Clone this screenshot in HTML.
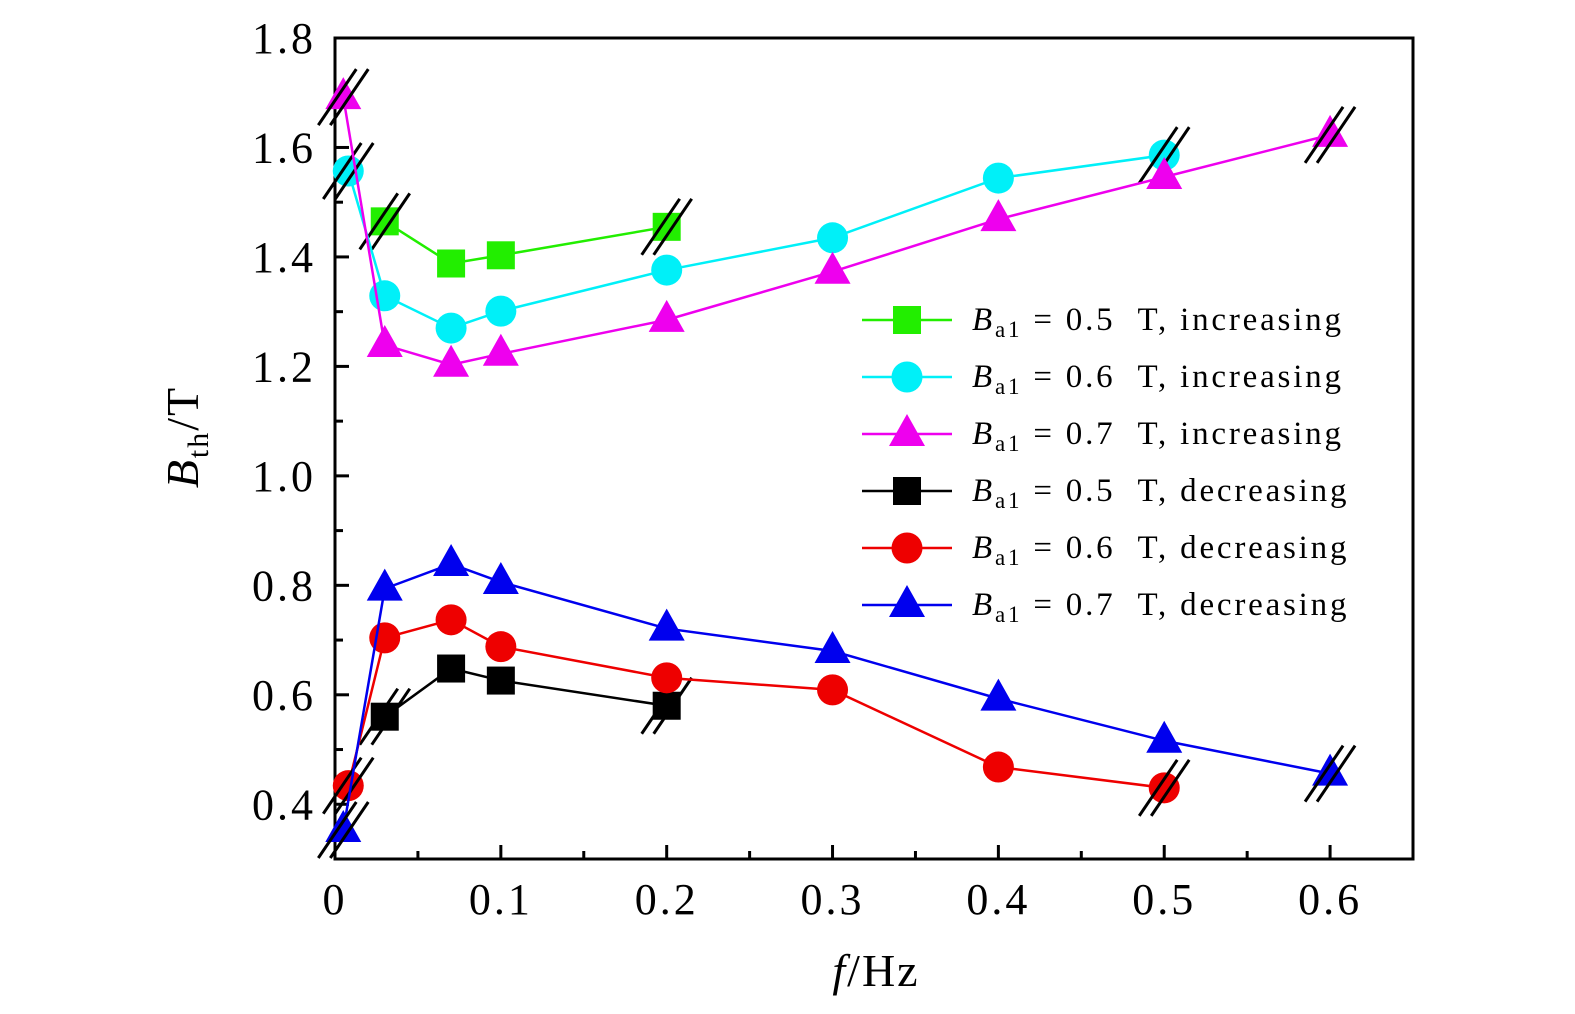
<!DOCTYPE html>
<html><head><meta charset="utf-8"><style>
html,body{margin:0;padding:0;background:#fff;overflow:hidden}
svg{display:block}
svg text{font-family:"Liberation Serif",serif;fill:#000}
</style></head><body>
<svg id="chart" width="1575" height="1014" xmlns="http://www.w3.org/2000/svg">
<g id="plot"></g>
</svg>
<script>
const xTicks=[0,0.1,0.2,0.3,0.4,0.5,0.6];
const xTickLabels=["0","0.1","0.2","0.3","0.4","0.5","0.6"];
const yTicks=[0.4,0.6,0.8,1.0,1.2,1.4,1.6,1.8];
const yTickLabels=["0.4","0.6","0.8","1.0","1.2","1.4","1.6","1.8"];
const greenX=[0.03,0.07,0.1,0.2];
const greenY=[1.465,1.388,1.403,1.455];
const cyanX=[0.008,0.03,0.07,0.1,0.2,0.3,0.4,0.5];
const cyanY=[1.557,1.329,1.270,1.301,1.376,1.435,1.544,1.586];
const magentaX=[0.005,0.03,0.07,0.1,0.2,0.3,0.4,0.5,0.6];
const magentaY=[1.692,1.239,1.203,1.223,1.285,1.373,1.469,1.546,1.623];
const blackX=[0.03,0.07,0.1,0.2];
const blackY=[0.560,0.648,0.626,0.580];
const redX=[0.008,0.03,0.07,0.1,0.2,0.3,0.4,0.5];
const redY=[0.434,0.704,0.737,0.688,0.631,0.609,0.468,0.430];
const blueX=[0.005,0.03,0.07,0.1,0.2,0.3,0.4,0.5,0.6];
const blueY=[0.353,0.794,0.839,0.806,0.721,0.680,0.593,0.516,0.456];

const L=335,R=1413,T=38,B=859,X0=0,X1=0.65,Y0=0.3,Y1=1.8;
const sx=v=>L+(v-X0)/(X1-X0)*(R-L);
const sy=v=>B-(v-Y0)/(Y1-Y0)*(B-T);
const NS="http://www.w3.org/2000/svg";
const svg=document.getElementById('chart');
function mk(tag,attrs,parent){const e=document.createElementNS(NS,tag);for(const k in attrs)e.setAttribute(k,attrs[k]);(parent||svg).appendChild(e);return e;}

const box=mk('rect',{x:L,y:T,width:R-L,height:B-T,fill:'none',stroke:'#000','stroke-width':3});


xTicks.forEach((v,i)=>{
 const t=mk('line',{x1:sx(v),x2:sx(v),y1:B,y2:B-14,stroke:'#000','stroke-width':3});
 
 
 const m=mk('line',{x1:sx(v+0.05),x2:sx(v+0.05),y1:B,y2:B-8,stroke:'#000','stroke-width':3});
 
 
 const lb=mk('text',{x:sx(v),y:914,'font-size':44,'letter-spacing':3,'text-anchor':'middle'});
 lb.textContent=xTickLabels[i];
 
 
});
yTicks.forEach((v,i)=>{
 const t=mk('line',{x1:L,x2:L+14,y1:sy(v),y2:sy(v),stroke:'#000','stroke-width':3});
 
 
 const m=mk('line',{x1:L,x2:L+8,y1:sy(v-0.1),y2:sy(v-0.1),stroke:'#000','stroke-width':3});
 
 
 const lb=mk('text',{x:316,y:sy(v)+15,'font-size':44,'letter-spacing':3,'text-anchor':'end'});
 lb.textContent=yTickLabels[i];
 
 
});
const xt=mk('text',{x:876,y:986,'font-size':46,'letter-spacing':2,'text-anchor':'middle'});
xt.innerHTML='<tspan font-style="italic">f</tspan>/Hz';


const yt=mk('text',{x:0,y:0,'font-size':46,'letter-spacing':2,'text-anchor':'middle',transform:'translate(198,437) rotate(-90)'});
yt.innerHTML='<tspan font-style="italic">B</tspan><tspan font-size="30" dy="10">th</tspan><tspan dy="-10">/T</tspan>';



function marker(shape,cx,cy,color,parent){
 let e;
 if(shape==='sq') e=mk('rect',{x:cx-14,y:cy-14,width:28,height:28,fill:color},parent);
 else if(shape==='ci') e=mk('circle',{cx:cx,cy:cy,r:15.5,fill:color},parent);
 else e=mk('polygon',{points:`${cx},${cy-20} ${cx+18},${cy+12} ${cx-18},${cy+12}`,fill:color},parent);
 return e;
}
function slash(cx,cy,parent){
 [-6,6].forEach(o=>{
  const s=mk('line',{x1:cx+o-19,y1:cy+28,x2:cx+o+19,y2:cy-28,stroke:'#000','stroke-width':3},parent);
  
  
 });
}
const series=[
 {name:'green-increasing-0-5',xs:greenX,ys:greenY,c:'#22ee00',s:'sq'},
 {name:'cyan-increasing-0-6',xs:cyanX,ys:cyanY,c:'#00f0f8',s:'ci'},
 {name:'magenta-increasing-0-7',xs:magentaX,ys:magentaY,c:'#ee00ee',s:'tr'},
 {name:'black-decreasing-0-5',xs:blackX,ys:blackY,c:'#000000',s:'sq'},
 {name:'red-decreasing-0-6',xs:redX,ys:redY,c:'#ee0000',s:'ci'},
 {name:'blue-decreasing-0-7',xs:blueX,ys:blueY,c:'#0000ee',s:'tr'}
];
series.forEach(S=>{
 const g=mk('g',{});
 
 
 const pts=S.xs.map((x,i)=>sx(x)+','+sy(S.ys[i])).join(' ');
 const pl=mk('polyline',{points:pts,fill:'none',stroke:S.c,'stroke-width':2.5},g);
 
 
 S.xs.forEach((x,i)=>{
  const m=marker(S.s,sx(x),sy(S.ys[i]),S.c,g);
  
  
 });
 const n=S.xs.length-1;
 slash(sx(S.xs[0]),sy(S.ys[0]),g);
 slash(sx(S.xs[n]),sy(S.ys[n]),g);
});
const leg=mk('g',{});


const labels=['0.5 T, increasing','0.6 T, increasing','0.7 T, increasing','0.5 T, decreasing','0.6 T, decreasing','0.7 T, decreasing'];
series.forEach((S,i)=>{
 const y=320+i*57;
 const g=mk('g',{},leg);
 
 
 const ln=mk('line',{x1:862,x2:952,y1:y,y2:y,stroke:S.c,'stroke-width':2.5},g);
 
 
 const m=marker(S.s,907,y,S.c,g);
 
 
 const t=mk('text',{x:972,y:y+10,'font-size':33,'letter-spacing':2.8},g);
 t.innerHTML='<tspan font-style="italic">B</tspan><tspan font-size="23" dy="7">a1</tspan><tspan dy="-7"> = '+labels[i].replace(' T',' &#160;T')+'</tspan>';
 
 
});
</script>
</body></html>
